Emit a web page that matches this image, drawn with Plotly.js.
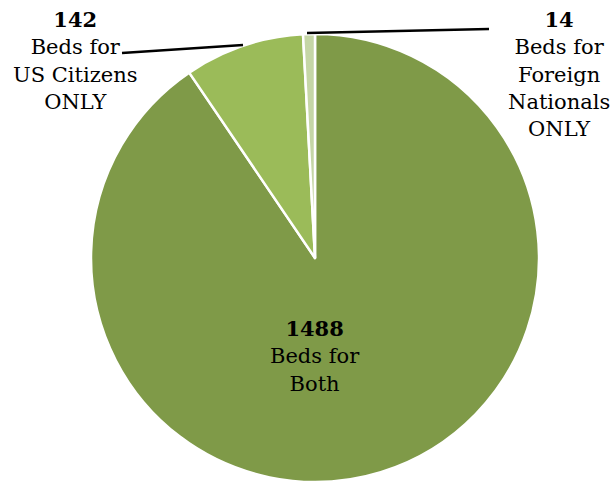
<!DOCTYPE html>
<html><head><meta charset="utf-8">
<script src="https://cdn.plot.ly/plotly-3.0.1.min.js"></script>
<style>html,body{margin:0;padding:0;background:#fff}</style>
</head><body>
<div id="chart" style="width:614px;height:483px"></div>
<script>
const categories = ["Beds for<br>Both", "Beds for<br>US Citizens<br>ONLY", "Beds for<br>Foreign<br>Nationals<br>ONLY"];
const values = [1488, 142, 14];
const colors = ["#7f9a48", "#9bbb59", "#c5d6a6"];
// label anchor positions (paper coords)
const labelPos = [[315/614, 1-314/483], [75/614, 1-5/483], [559/614, 1-5/483]];
const font = {family: "DejaVu Serif, Liberation Serif, serif", size: 21, color: "#000"};

const annotations = values.map((v, i) => ({
  xref: "paper", yref: "paper", x: labelPos[i][0], y: labelPos[i][1],
  xanchor: "center", yanchor: "top", showarrow: false, align: "center",
  text: "<b>" + v + "</b><br>" + categories[i], font: font
}));

const shapes = [
  {type: "line", xref: "paper", yref: "paper", x0: 122/614, y0: 1-53/483, x1: 243/614, y1: 1-45/483, line: {color: "#000", width: 2.5}},
  {type: "line", xref: "paper", yref: "paper", x0: 307/614, y0: 1-33/483, x1: 489/614, y1: 1-29/483, line: {color: "#000", width: 2.5}}
];

Plotly.newPlot("chart", [{
  type: "pie", values: values, labels: categories, sort: false, direction: "clockwise", rotation: 0,
  marker: {colors: colors, line: {color: "#fff", width: 2.5}},
  textinfo: "none", hoverinfo: "none",
  domain: {x: [91/614, 539/614], y: [1-482/483, 1-34/483]}
}], {
  width: 614, height: 483, margin: {l: 0, r: 0, t: 0, b: 0},
  showlegend: false, paper_bgcolor: "#fff",
  annotations: annotations, shapes: shapes
}, {displayModeBar: false, staticPlot: true});
</script>
</body></html>
